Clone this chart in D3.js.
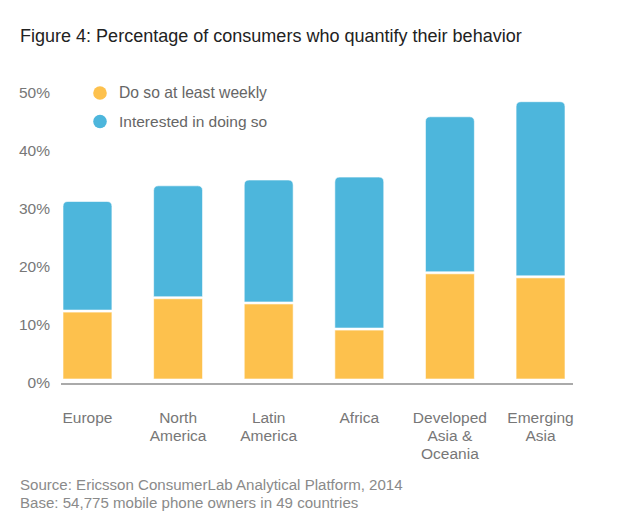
<!DOCTYPE html>
<html><head><meta charset="utf-8">
<script src="https://cdn.jsdelivr.net/npm/d3@7"></script>
<style>body{margin:0;background:#fff}svg{display:block}text{font-family:"Liberation Sans",Arial,sans-serif}</style>
</head><body>
<script>
const categories = [["Europe"],["North","America"],["Latin","America"],["Africa"],["Developed","Asia &","Oceania"],["Emerging","Asia"]];
const weekly = [12.4, 14.7, 13.8, 9.3, 19, 18.3];
const interested = [18.9, 19.3, 21.2, 26.2, 26.9, 30.2];
const yTicks = [0, 10, 20, 30, 40, 50];
const seriesNames = ["Do so at least weekly", "Interested in doing so"];
const colors = ["#FDC14D", "#4DB6DC"];

const W = 620, H = 525;
const svg = d3.select("body").append("svg").attr("width", W).attr("height", H);

function fit(sel, width) {
  const n = sel.node(); const l = n.getComputedTextLength();
  const fs = parseFloat(sel.attr("font-size"));
  sel.attr("font-size", fs * width / l);
}

const title = svg.append("text").attr("x", 20).attr("y", 42).attr("font-size", 18).attr("fill", "#222")
  .text("Figure 4: Percentage of consumers who quantify their behavior");
fit(title, 502);

const names = categories.map(c => c.join(" "));
const x = d3.scaleBand().domain(names).range([63, 565]).paddingInner(0.46).paddingOuter(0);
const y = d3.scaleLinear().domain([0, 50]).range([383, 93]);

// y tick labels
const ya = svg.append("g").attr("transform", "translate(50,0)")
  .call(d3.axisLeft(y).tickValues(yTicks).tickFormat(d => d + "%").tickSize(0).tickPadding(0));
ya.select(".domain").remove();
ya.selectAll("text").attr("font-size", 15.5).attr("fill", "#777").attr("font-family", "Liberation Sans, Arial, sans-serif");

// axis line
svg.append("line").attr("x1", 61).attr("x2", 573).attr("y1", 384).attr("y2", 384)
  .attr("stroke", "#aaa").attr("stroke-width", 2);

const base = y(0) - 4;
function topRounded(x0, y0, w, h, r) {
  return `M${x0},${y0 + h}V${y0 + r}Q${x0},${y0} ${x0 + r},${y0}H${x0 + w - r}Q${x0 + w},${y0} ${x0 + w},${y0 + r}V${y0 + h}Z`;
}
const g = svg.append("g");
names.forEach((n, i) => {
  const bx = x(n), bw = x.bandwidth();
  const yw = y(weekly[i]);
  const yt = y(weekly[i] + interested[i]);
  g.append("rect").attr("x", bx).attr("y", yw + 1).attr("width", bw).attr("height", base - yw - 1)
    .attr("fill", colors[0]).attr("stroke", "#fff").attr("stroke-opacity", 0.6).attr("stroke-width", 1);
  g.append("path").attr("d", topRounded(bx, yt, bw, yw - 1 - yt, 5))
    .attr("fill", colors[1]).attr("stroke", "#fff").attr("stroke-opacity", 0.6).attr("stroke-width", 1);
});

// x labels
const xl = svg.append("g");
categories.forEach((c, i) => {
  const t = xl.append("text").attr("x", x(names[i]) + x.bandwidth() / 2).attr("y", 423)
    .attr("text-anchor", "middle").attr("font-size", 15.5).attr("fill", "#777");
  c.forEach((line, j) => t.append("tspan").attr("x", x(names[i]) + x.bandwidth() / 2).attr("dy", j ? 18 : 0).text(line));
});

// legend
const lg = svg.append("g");
seriesNames.forEach((s, i) => {
  const ly = 93 + i * 28.5;
  lg.append("circle").attr("cx", 100).attr("cy", ly).attr("r", 6.8).attr("fill", colors[i]);
  const t = lg.append("text").attr("x", 119).attr("y", ly).attr("dy", "0.35em").attr("font-size", 15.5).attr("fill", "#666").text(s);
  if (i === 0) fit(t, 148);
});

// source
const s1 = svg.append("text").attr("x", 20).attr("y", 490).attr("font-size", 14).attr("fill", "#8a8a8a")
  .text("Source: Ericsson ConsumerLab Analytical Platform, 2014");
fit(s1, 383);
svg.append("text").attr("x", 20).attr("y", 508).attr("font-size", s1.attr("font-size")).attr("fill", "#8a8a8a")
  .text("Base: 54,775 mobile phone owners in 49 countries");
</script>
</body></html>
